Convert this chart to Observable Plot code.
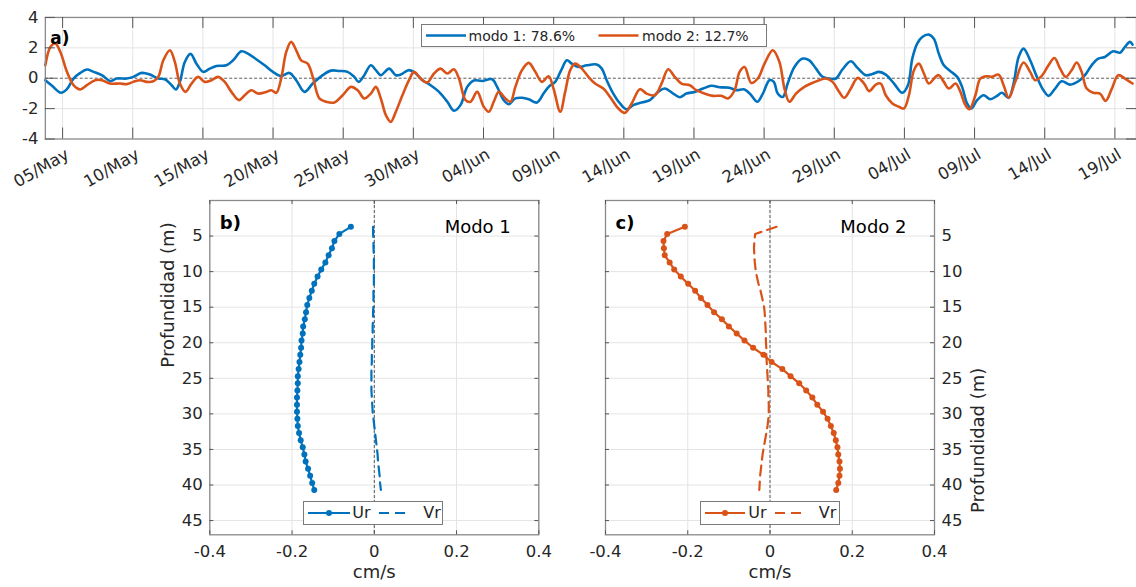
<!DOCTYPE html>
<html>
<head>
<meta charset="utf-8">
<script src="https://cdn.jsdelivr.net/npm/d3@7"></script>
<script src="https://cdn.jsdelivr.net/npm/@observablehq/plot@0.6"></script>
<style>
  html, body { margin: 0; padding: 0; background: #fff; overflow: hidden; }
  #wrap { position: relative; width: 1136px; height: 587px; overflow: hidden; font-family: "DejaVu Sans", sans-serif; color: #262626; }
  .panel { position: absolute; }
  .legend { position: absolute; background: #fff; border: 1px solid #7a7a7a; box-sizing: border-box; }
  .legend .item { position: absolute; white-space: nowrap; line-height: 1; }
  .legend svg { position: absolute; overflow: visible; }
</style>
</head>
<body>
<div id="wrap"></div>
<script>
// ---------------- DATA ----------------
// time axis: days since 05/May (ticks at midnight)
const t1 = [-1.23,-0.75,-0.12,0.31,0.78,1.26,1.73,2.20,2.80,3.39,
3.86,4.57,5.04,5.64,6.23,6.82,7.29,7.77,8.08,8.36,
8.71,9.12,9.54,10.02,10.49,10.96,11.67,12.15,12.74,13.21,
13.80,14.40,14.99,15.58,16.17,16.65,17.24,17.83,18.54,19.13,
19.72,20.31,20.79,21.10,21.50,21.97,22.33,22.68,23.27,23.75,
24.10,24.69,25.17,25.64,26.23,26.83,27.42,27.89,28.36,28.84,
29.31,29.90,30.61,30.97,31.44,31.80,32.27,32.74,33.22,33.81,
34.28,34.64,35.11,35.54,35.94,36.29,36.77,37.36,38.07,38.43,
38.78,39.25,39.73,40.20,40.67,41.27,41.86,42.45,42.92,43.52,
43.99,44.46,45.05,45.65,46.24,46.83,47.54,48.01,48.61,49.08,
49.51,49.91,50.38,50.69,50.97,51.33,51.68,52.16,52.75,53.22,
53.70,54.17,54.64,55.12,55.59,56.18,56.66,57.25,57.72,58.19,
58.67,59.26,59.85,60.25,60.56,60.91,61.27,61.74,62.10,62.45,
62.81,63.28,63.76,64.11,64.47,64.77,65.18,65.65,66.12,66.60,
66.95,67.43,67.78,68.14,68.49,68.96,69.44,69.91,70.27,70.74,
71.21,71.81,72.40,72.87,73.34,73.82,74.29,74.88,75.36,75.72,
76.07,76.26];
const modo1 = [-0.13,-0.50,-0.96,-0.72,-0.02,0.35,0.57,0.42,0.20,-0.18,
-0.02,-0.02,0.09,0.35,0.24,-0.02,-0.07,-0.46,-0.74,-0.24,
1.07,1.60,0.96,0.42,0.63,0.81,0.85,1.18,1.77,1.62,
1.25,0.85,0.42,0.15,0.35,-0.13,-0.90,-0.35,0.20,0.50,
0.48,0.42,0.09,-0.24,0.20,0.85,0.53,0.20,0.63,0.20,
0.24,0.53,0.31,-0.13,-0.46,-0.90,-1.55,-2.14,-1.77,-0.57,
-0.15,-0.18,-0.07,-0.57,-1.44,-1.71,-1.33,-1.29,-1.38,-1.60,
-1.01,-0.57,-0.24,0.53,1.18,0.96,0.74,0.85,0.90,0.63,
-0.13,-1.01,-1.66,-2.04,-1.77,-1.60,-1.44,-0.90,-0.68,-1.01,
-1.25,-1.01,-0.90,-0.68,-0.50,-0.59,-0.63,-0.79,-0.74,-1.12,
-1.55,-1.01,-0.13,-0.24,-1.01,-1.23,-0.35,0.74,1.29,1.18,
0.63,0.09,-0.02,-0.02,0.59,1.12,0.68,0.20,0.28,0.42,
0.24,-0.35,-0.96,-0.46,1.29,2.28,2.71,2.87,2.60,1.62,
0.85,0.46,0.09,-0.57,-1.66,-1.99,-1.44,-1.12,-1.38,-1.16,
-0.96,-1.29,-0.35,1.40,1.95,1.18,0.09,-0.79,-1.16,-0.68,
-0.20,-0.42,-0.20,0.20,0.85,1.29,1.40,1.77,1.68,2.06,
2.39,2.21];

const t2 = [-1.23,-0.87,-0.52,-0.16,0.31,0.78,1.26,1.73,2.32,2.80,
3.39,4.10,4.57,5.04,5.52,5.99,6.47,6.82,7.18,7.65,
8.00,8.36,8.76,9.19,9.66,10.13,10.61,11.08,11.56,12.03,
12.57,12.98,13.45,13.92,14.51,14.87,15.23,15.58,15.94,16.29,
16.65,17.00,17.47,17.83,18.30,18.78,19.37,19.96,20.55,21.03,
21.50,21.97,22.33,22.68,23.04,23.39,23.75,24.22,24.69,25.05,
25.52,26.00,26.47,26.94,27.42,27.89,28.25,28.72,29.07,29.55,
30.02,30.38,30.73,31.09,31.56,31.92,32.27,32.74,33.22,33.69,
34.16,34.64,34.99,35.47,35.82,36.18,36.53,37.01,37.48,37.95,
38.54,39.02,39.61,40.08,40.56,41.15,41.62,42.21,42.69,43.16,
43.63,44.11,44.70,45.17,45.76,46.36,46.95,47.42,47.90,48.25,
48.61,49.08,49.55,50.03,50.62,51.09,51.45,51.80,52.27,52.87,
53.34,53.93,54.41,54.88,55.35,55.71,56.18,56.66,57.13,57.48,
57.96,58.31,58.67,59.14,59.61,59.97,60.32,60.68,61.03,61.39,
61.74,62.22,62.45,62.81,63.17,63.64,63.99,64.35,64.63,65.06,
65.41,65.89,66.24,66.71,67.07,67.43,67.90,68.49,68.96,69.32,
69.79,70.27,70.69,71.10,71.50,71.92,72.28,72.63,72.99,73.46,
73.94,74.34,74.77,75.24,75.72,76.26];
const modo2 = [0.85,2.06,2.28,1.73,0.42,-0.46,-0.74,-0.46,-0.13,-0.13,
-0.35,-0.35,-0.39,-0.24,-0.13,-0.24,-0.20,0.09,1.18,1.84,
1.07,-0.35,-0.90,-0.35,0.09,-0.24,-0.13,0.09,-0.24,-0.90,
-1.44,-1.12,-0.79,-1.01,-0.90,-0.79,-0.96,-0.02,1.73,2.39,
1.84,1.18,0.96,0.09,-1.33,-1.55,-1.60,-1.12,-0.57,-0.79,
-1.33,-1.01,-0.57,-1.33,-2.43,-2.87,-2.21,-1.12,-0.13,0.42,
-0.02,-0.28,0.31,0.63,0.31,0.59,-0.02,-1.44,-1.55,-0.90,
-1.88,-2.21,-1.55,-0.90,-1.33,-1.55,-0.57,0.53,1.01,0.42,
-0.24,0.13,-0.68,-2.21,-0.90,0.53,0.96,0.63,0.09,-0.35,
-0.68,-1.23,-1.99,-2.28,-1.66,-0.72,-1.01,-1.12,-0.35,0.59,
0.09,-0.35,-0.46,-0.79,-1.01,-1.16,-1.16,-1.33,-0.79,0.42,
0.74,-0.31,-0.02,0.96,1.84,1.07,-0.68,-1.55,-1.01,-0.57,
-0.35,-0.13,-0.02,-0.24,-0.90,-1.29,-0.68,0.02,-0.35,-0.85,
-0.42,-0.35,-1.12,-1.66,-1.88,-1.99,-1.12,0.53,0.96,0.31,
-0.35,0.09,0.20,-0.24,-0.68,-0.35,-0.90,-1.77,-2.04,-1.12,
-0.02,0.13,0.09,0.24,-0.46,-1.29,-0.24,1.03,0.42,-0.13,
0.15,0.85,1.33,0.63,0.09,0.53,1.03,0.42,-0.68,-0.96,
-1.01,-1.49,-0.72,0.20,-0.02,-0.35];

const dateTicks = ["2019-05-05","2019-05-10","2019-05-15","2019-05-20","2019-05-25","2019-05-30",
"2019-06-04","2019-06-09","2019-06-14","2019-06-19","2019-06-24","2019-06-29",
"2019-07-04","2019-07-09","2019-07-14","2019-07-19"];
const topYTicks = [-4,-2,0,2,4];

// vertical profiles
const depth = [3.7,4.7,5.7,6.7,7.7,8.7,9.7,10.7,11.7,12.7,13.7,14.7,15.7,16.7,17.7,18.7,19.7,20.7,21.7,22.7,
23.7,24.7,25.7,26.7,27.7,28.7,29.7,30.7,31.7,32.7,33.7,34.7,35.7,36.7,37.7,38.7,39.7,40.7];
const ur1 = [-0.057,-0.085,-0.097,-0.103,-0.111,-0.119,-0.129,-0.138,-0.146,-0.152,-0.158,-0.163,-0.166,-0.169,-0.173,-0.174,-0.177,-0.178,-0.180,-0.182,
-0.184,-0.186,-0.186,-0.187,-0.188,-0.188,-0.188,-0.187,-0.186,-0.183,-0.179,-0.174,-0.170,-0.167,-0.161,-0.156,-0.151,-0.146];
const vr1 = [-0.003,-0.003,-0.002,-0.002,-0.001,-0.001,-0.001,-0.001,-0.001,-0.002,-0.002,-0.002,-0.003,-0.003,-0.004,-0.004,-0.005,-0.005,-0.006,-0.006,
-0.007,-0.007,-0.007,-0.007,-0.006,-0.005,-0.004,-0.002,0.000,0.002,0.004,0.006,0.008,0.009,0.011,0.013,0.014,0.016];
const ur2 = [-0.207,-0.250,-0.259,-0.258,-0.256,-0.244,-0.233,-0.217,-0.199,-0.182,-0.168,-0.152,-0.136,-0.117,-0.100,-0.081,-0.062,-0.041,-0.016,0.004,
0.030,0.050,0.071,0.088,0.103,0.115,0.129,0.140,0.148,0.155,0.160,0.164,0.166,0.169,0.170,0.169,0.166,0.161];
const vr2 = [0.016,-0.036,-0.038,-0.039,-0.038,-0.037,-0.035,-0.032,-0.028,-0.023,-0.019,-0.015,-0.013,-0.012,-0.011,-0.010,-0.010,-0.009,-0.009,-0.008,
-0.007,-0.006,-0.005,-0.004,-0.004,-0.003,-0.003,-0.004,-0.006,-0.009,-0.012,-0.015,-0.018,-0.020,-0.022,-0.024,-0.025,-0.026];
const profXTicks = [-0.4,-0.2,0,0.2,0.4];
const profYTicks = [5,10,15,20,25,30,35,40,45];

const legendTop = ["modo 1: 78.6%", "modo 2: 12.7%"];
const legendProf = ["Ur", "Vr"];

// ---------------- STYLE ----------------
const BLUE = "#0072BD", ORANGE = "#D95319";
const GRID = "#e4e4e4", FRAME = "#8a8a8a", TICK = "#555", TXT = "#262626";
const FONT = "DejaVu Sans";

const wrap = document.getElementById("wrap");
const base = Date.UTC(2019, 4, 5);
const toDate = t => new Date(base + t * 864e5);
const parse = d3.utcParse("%Y-%m-%d");
const fmtDate = d3.utcFormat("%d/%b");
const tickDates = dateTicks.map(parse);

const s1 = t1.map((t, i) => ({date: toDate(t), v: modo1[i]}));
const s2 = t2.map((t, i) => ({date: toDate(t), v: modo2[i]}));
const xDom = [toDate(-1.229), toDate(76.54)];

function place(el, left, top) {
  const d = document.createElement("div");
  d.className = "panel";
  d.style.left = left + "px"; d.style.top = top + "px";
  d.appendChild(el);
  wrap.appendChild(d);
  return d;
}

// ---------------- PANEL a ----------------
const topPlot = Plot.plot({
  width: 1140, height: 190,
  marginLeft: 45, marginRight: 0, marginTop: 17, marginBottom: 51,
  style: {fontFamily: FONT, fontSize: "16px", color: TXT, background: "transparent", overflow: "visible"},
  x: {type: "utc", domain: xDom, axis: null},
  y: {domain: [-4, 4], axis: null},
  marks: [
    Plot.ruleX(tickDates, {x: d => d, stroke: GRID, strokeWidth: 1}),
    Plot.ruleY([-2, 2], {y: d => d, stroke: GRID, strokeWidth: 1}),
    Plot.ruleY([0], {y: d => d, stroke: "#333", strokeWidth: 0.8, strokeDasharray: "3,2"}),
    Plot.line(s1, {x: "date", y: "v", stroke: BLUE, strokeWidth: 2.6, curve: "catmull-rom"}),
    Plot.line(s2, {x: "date", y: "v", stroke: ORANGE, strokeWidth: 2.6, curve: "catmull-rom"}),
    Plot.frame({stroke: FRAME, strokeWidth: 1.3}),
    Plot.ruleX(tickDates, {x: d => d, y1: -4, y2: -4, insetBottom: 11, stroke: TICK}),
    Plot.ruleX(tickDates, {x: d => d, y1: 4, y2: 4, insetTop: 11, stroke: TICK}),
    Plot.ruleY(topYTicks, {y: d => d, x1: xDom[0], x2: xDom[0], insetLeft: 10, stroke: TICK}),
    Plot.ruleY(topYTicks, {y: d => d, x1: xDom[1], x2: xDom[1], insetRight: 10, stroke: TICK}),
    Plot.text(topYTicks, {x: xDom[0], y: d => d, text: d => String(d), textAnchor: "end", dx: -7, fontSize: 16.5, fill: TXT}),
    Plot.text(tickDates, {x: d => d, y: -4, text: d => fmtDate(d), rotate: -30, textAnchor: "end", dx: 5, dy: 14, fontSize: 16.5, fill: TXT}),
    Plot.text(["a)"], {frameAnchor: "top-left", text: d => d, textAnchor: "start", dx: 5, dy: 14.5, fontSize: 17, fontWeight: "bold", fill: "#000"})
  ]
});
place(topPlot, 0, 0);

function legendBox(left, top, w, h) {
  const d = document.createElement("div");
  d.className = "legend";
  d.style.left = left + "px"; d.style.top = top + "px";
  d.style.width = w + "px"; d.style.height = h + "px";
  wrap.appendChild(d);
  return d;
}
function legendSample(box, x1, x2, color, opts = {}) {
  const svg = document.createElementNS("http://www.w3.org/2000/svg", "svg");
  svg.setAttribute("width", 1); svg.setAttribute("height", 1);
  svg.style.left = "0px"; svg.style.top = "0px";
  const cy = (parseFloat(box.style.height) - 2) / 2;
  const ln = document.createElementNS("http://www.w3.org/2000/svg", "line");
  ln.setAttribute("x1", x1); ln.setAttribute("x2", x2); ln.setAttribute("y1", cy); ln.setAttribute("y2", cy);
  ln.setAttribute("stroke", color); ln.setAttribute("stroke-width", opts.width || 2.6);
  if (opts.dash) ln.setAttribute("stroke-dasharray", opts.dash);
  svg.appendChild(ln);
  if (opts.dot) {
    const c = document.createElementNS("http://www.w3.org/2000/svg", "circle");
    c.setAttribute("cx", (x1 + x2) / 2); c.setAttribute("cy", cy); c.setAttribute("r", 3); c.setAttribute("fill", color);
    svg.appendChild(c);
  }
  box.appendChild(svg);
}
function legendText(box, x, txt, size) {
  const s = document.createElement("div");
  s.className = "item";
  s.textContent = txt;
  s.style.left = x + "px";
  s.style.fontSize = size + "px";
  s.style.top = ((parseFloat(box.style.height) - 2) / 2 - size * 0.5) + "px";
  box.appendChild(s);
}

// top legend
const lgA = legendBox(420.5, 24, 346, 23);
legendSample(lgA, 4, 44, BLUE);
legendText(lgA, 47, legendTop[0], 14);
legendSample(lgA, 176.5, 216.5, ORANGE);
legendText(lgA, 220.5, legendTop[1], 14);

// ---------------- PROFILE PANELS ----------------
const fmtX = d => d === 0 ? "0" : d.toFixed(1);

function profile({color, ur, vr, label, modo, yLabelSide, width, marginLeft, marginRight}) {
  const pu = depth.map((z, i) => ({z, u: ur[i]}));
  const pv = depth.map((z, i) => ({z, v: vr[i]}));
  const right = yLabelSide === "right";
  return Plot.plot({
    width, height: 397,
    marginLeft, marginRight, marginTop: 10, marginBottom: 52.7,
    style: {fontFamily: FONT, fontSize: "16px", color: TXT, background: "transparent", overflow: "visible"},
    x: {domain: [-0.4, 0.4], axis: null},
    y: {domain: [0, 47], reverse: true, axis: null},
    marks: [
      Plot.ruleX(profXTicks, {x: d => d, stroke: GRID, strokeWidth: 1}),
      Plot.ruleY(profYTicks, {y: d => d, stroke: GRID, strokeWidth: 1}),
      Plot.ruleX([0], {x: d => d, stroke: "#333", strokeWidth: 0.8, strokeDasharray: "3,2"}),
      Plot.line(pv, {x: "v", y: "z", stroke: color, strokeWidth: 2.2, strokeDasharray: "10,6"}),
      Plot.line(pu, {x: "u", y: "z", stroke: color, strokeWidth: 2.2}),
      Plot.dot(pu, {x: "u", y: "z", fill: color, r: 3}),
      Plot.frame({stroke: FRAME, strokeWidth: 1.3}),
      Plot.ruleX(profXTicks, {x: d => d, y1: 47, y2: 47, insetBottom: 4, stroke: TICK}),
      Plot.ruleX(profXTicks, {x: d => d, y1: 0, y2: 0, insetTop: 4, stroke: TICK}),
      Plot.ruleY(profYTicks, {y: d => d, x1: -0.4, x2: -0.4, insetLeft: 4, stroke: TICK}),
      Plot.ruleY(profYTicks, {y: d => d, x1: 0.4, x2: 0.4, insetRight: 4, stroke: TICK}),
      Plot.text(profXTicks, {x: d => d, y: 47, text: fmtX, dy: 16.5, fontSize: 16.5, fill: TXT}),
      Plot.text(profYTicks, {x: right ? 0.4 : -0.4, y: d => d, text: d => String(d), textAnchor: right ? "start" : "end", dx: right ? 7 : -7, fontSize: 16.5, fill: TXT}),
      Plot.text(["cm/s"], {frameAnchor: "bottom", text: d => d, dy: 43.5, fontSize: 18, fill: TXT}),
      Plot.text(["Profundidad (m)"], {frameAnchor: right ? "right" : "left", text: d => d, rotate: -90, dx: right ? 44 : -42, fontSize: 18, fill: TXT}),
      Plot.text([label], {frameAnchor: "top-left", text: d => d, textAnchor: "start", dx: 10, dy: 16, fontSize: 18, fontWeight: "bold", fill: "#000"}),
      Plot.text([modo], {frameAnchor: "top-right", text: d => d, textAnchor: "end", dx: -28, dy: 20, fontSize: 18, fill: "#000"})
    ]
  });
}

const pb = profile({color: BLUE, ur: ur1, vr: vr1, label: "b)", modo: "Modo 1", yLabelSide: "left", width: 400, marginLeft: 59.3, marginRight: 11.7});
place(pb, 150, 190);
const pc = profile({color: ORANGE, ur: ur2, vr: vr2, label: "c)", modo: "Modo 2", yLabelSide: "right", width: 440, marginLeft: 45, marginRight: 66});
place(pc, 560, 190);

// profile legends
const lgB = legendBox(303.3, 500.7, 140, 24);
legendSample(lgB, 4, 46, BLUE, {width: 2.2, dot: true});
legendText(lgB, 48, legendProf[0], 16);
legendSample(lgB, 75, 107, BLUE, {width: 2.2, dash: "10,6"});
legendText(lgB, 119, legendProf[1], 16);

const lgC = legendBox(699.7, 500.7, 140, 24);
legendSample(lgC, 4, 44, ORANGE, {width: 2.2, dot: true});
legendText(lgC, 47.5, legendProf[0], 16);
legendSample(lgC, 74, 106, ORANGE, {width: 2.2, dash: "10,6"});
legendText(lgC, 118, legendProf[1], 16);
</script>
</body>
</html>
